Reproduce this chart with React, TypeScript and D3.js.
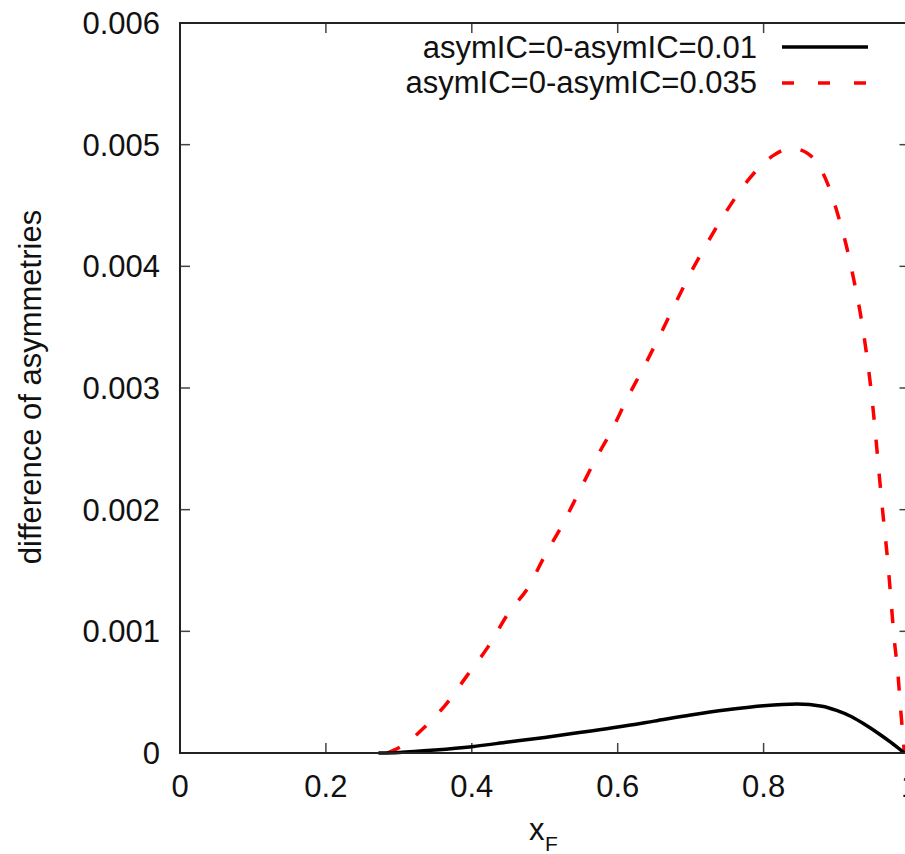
import React from "react";
import * as d3 from "d3";

const xTicks = [0, 0.2, 0.4, 0.6, 0.8, 1];
const yTicks = [0, 0.001, 0.002, 0.003, 0.004, 0.005, 0.006];
const xTickLabels = ["0", "0.2", "0.4", "0.6", "0.8", "1"];
const yTickLabels = ["0", "0.001", "0.002", "0.003", "0.004", "0.005", "0.006"];

const seriesNames = ["asymIC=0-asymIC=0.01", "asymIC=0-asymIC=0.035"];

const blackX = [0.272, 0.3, 0.35, 0.4, 0.45, 0.5, 0.55, 0.6, 0.65, 0.7, 0.75, 0.8, 0.846, 0.88, 0.9, 0.92, 0.94, 0.96, 0.975, 0.993];
const blackY = [0, 0.000005, 0.000025, 0.000052, 0.00009, 0.000128, 0.00017, 0.000213, 0.000262, 0.000312, 0.000355, 0.000389, 0.000403, 0.000385, 0.00035, 0.0003, 0.00023, 0.00015, 0.000085, 0];

const redX = [0.284, 0.31, 0.334, 0.366, 0.394, 0.422, 0.45, 0.478, 0.5005, 0.524, 0.546, 0.569, 0.592, 0.613, 0.636, 0.658, 0.679, 0.702, 0.725, 0.75, 0.779, 0.813, 0.838, 0.86, 0.887, 0.903, 0.915, 0.925, 0.933, 0.947, 0.963, 0.971, 0.975, 0.979, 0.984, 0.988, 0.993];
const redY = [0, 0.00008, 0.000205, 0.00041, 0.00064, 0.00087, 0.001148, 0.001367, 0.001627, 0.001874, 0.002134, 0.002407, 0.002654, 0.002914, 0.003174, 0.003435, 0.003695, 0.003969, 0.004215, 0.004462, 0.00471, 0.00491, 0.00497, 0.00493, 0.00469, 0.0044, 0.00413, 0.00385, 0.0036, 0.003, 0.002, 0.00152, 0.00123, 0.00094, 0.00066, 0.00035, 0];

const W = 905;
const H = 854;
const L = 180, R = 909.5, T = 23, B = 753;
const FONT = "'Liberation Sans', Arial, Helvetica, sans-serif";

export default function App() {
  const x = d3.scaleLinear().domain([0, 1]).range([L, R]);
  const y = d3.scaleLinear().domain([0, 0.006]).range([B, T]);
  const line = d3
    .line<[number, number]>()
    .x((d) => x(d[0]))
    .y((d) => y(d[1]))
    .curve(d3.curveMonotoneX);
  const blackPts = blackX.map((v, i) => [v, blackY[i]] as [number, number]);
  const redPts = redX.map((v, i) => [v, redY[i]] as [number, number]);
  const tickLen = 10;
  const fs = 31;
  return (
    <svg
      width={W}
      height={H}
      style={{ position: "absolute", left: 0, top: 0, background: "#fff" }}
      fontFamily={FONT}
    >
      <rect x={0} y={0} width={W} height={H} fill="#fff" />
      {xTicks.map((t, i) => (
        <g key={"xt" + i}>
          <line x1={x(t)} x2={x(t)} y1={B} y2={B - tickLen} stroke="#444" strokeWidth={1.5} />
          <line x1={x(t)} x2={x(t)} y1={T} y2={T + tickLen} stroke="#444" strokeWidth={1.5} />
          <text x={x(t)} y={797} fontSize={fs} textAnchor="middle" fill="#111">
            {xTickLabels[i]}
          </text>
        </g>
      ))}
      {yTicks.map((t, i) => (
        <g key={"yt" + i}>
          <line x1={L} x2={L + tickLen} y1={y(t)} y2={y(t)} stroke="#444" strokeWidth={1.5} />
          <line x1={R} x2={R - tickLen} y1={y(t)} y2={y(t)} stroke="#444" strokeWidth={1.5} />
          <text x={160} y={y(t) + 11} fontSize={fs} textAnchor="end" fill="#111">
            {yTickLabels[i]}
          </text>
        </g>
      ))}
      <path d={line(redPts) || ""} fill="none" stroke="#ff0000" strokeWidth={3.5} strokeDasharray="14,20" />
      <path d={line(blackPts) || ""} fill="none" stroke="#000" strokeWidth={3.5} />
      <rect x={L} y={T} width={R - L} height={B - T} fill="none" stroke="#222" strokeWidth={2} />
      <text x={757} y={58} fontSize={fs} textAnchor="end" fill="#111">
        {seriesNames[0]}
      </text>
      <line x1={782} x2={868} y1={47} y2={47} stroke="#000" strokeWidth={3.5} />
      <text x={757} y={93} fontSize={fs} textAnchor="end" fill="#111">
        {seriesNames[1]}
      </text>
      <line x1={782} x2={868} y1={83} y2={83} stroke="#ff0000" strokeWidth={3.5} strokeDasharray="12,24" />
      <text x={529} y={840} fontSize={fs} fill="#111">
        x
        <tspan x={545} y={851} fontSize={21}>F</tspan>
      </text>
      <text
        transform={`translate(41, 387) rotate(-90)`}
        fontSize={fs}
        textAnchor="middle"
        fill="#111"
      >
        difference of asymmetries
      </text>
    </svg>
  );
}
